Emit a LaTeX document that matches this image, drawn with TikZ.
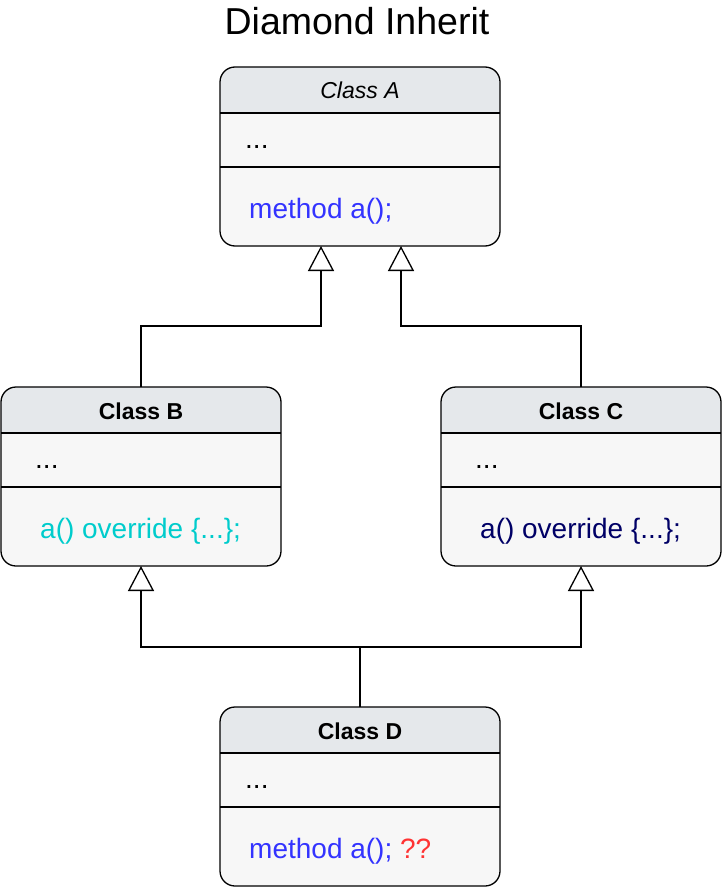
\documentclass[tikz,border=0pt]{standalone}
\usepackage{fontspec}
\setmainfont{Liberation Sans}
\usetikzlibrary{arrows.meta}
\definecolor{hdrfill}{HTML}{E5E8EB}
\definecolor{bodyfill}{HTML}{F7F7F7}
\definecolor{methblue}{HTML}{3333FF}
\definecolor{ovcyan}{HTML}{00CCCC}
\definecolor{ovnavy}{HTML}{000066}
\definecolor{qred}{HTML}{FF3333}
\begin{document}
\begin{tikzpicture}
    [%%%%%%%%%%%%%%%%%%%%%%%%%%%%%%
        x=1pt, y=-1pt,
        classbox/.style={rectangle, rounded corners=15pt, draw=black, line width=1.3pt,
            fill=bodyfill, minimum width=280pt, minimum height=179pt, inner sep=0pt, outer sep=0pt,
            path picture={
                \fill[hdrfill, sharp corners] (path picture bounding box.north west) rectangle ([yshift=-46pt]path picture bounding box.north east);
                \draw[line width=1.3pt, sharp corners] ([yshift=-46pt]path picture bounding box.north west) -- ([yshift=-46pt]path picture bounding box.north east);
                \draw[line width=1.3pt, sharp corners] ([yshift=-100pt]path picture bounding box.north west) -- ([yshift=-100pt]path picture bounding box.north east);
            }},
        hdrtext/.style={anchor=base, inner sep=0pt, font=\fontsize{23}{27}\selectfont},
        bodytext/.style={anchor=base west, inner sep=0pt, font=\fontsize{28}{32}\selectfont},
        inh/.style={line width=1.3pt, -{Triangle[length=25pt, width=26pt, fill=white]}},
    ]%%%%%%%%%%%%%%%%%%%%%%%%%%%%%%
    \useasboundingbox (0,0) rectangle (724,888);
    \node[anchor=base, inner sep=0pt, font=\fontsize{37.5}{42}\selectfont] (title) at (357,35) {Diamond Inherit};

    % class boxes
    \node[classbox] (A) at (360,156.5) {};
    \node[classbox] (B) at (141,476.5) {};
    \node[classbox] (C) at (581,476.5) {};
    \node[classbox] (D) at (360,796.5) {};

    % class A
    \node[hdrtext] (A-name) at ([yshift=-32pt]A.north) {\itshape Class A};
    \node[bodytext] (A-attr) at ([shift={(25pt,-81pt)}]A.north west) {...};
    \node[bodytext, text=methblue] (A-meth) at ([shift={(29pt,-151pt)}]A.north west) {method a();};

    % class B
    \node[hdrtext] (B-name) at ([yshift=-32pt]B.north) {\bfseries Class B};
    \node[bodytext] (B-attr) at ([shift={(34pt,-81pt)}]B.north west) {...};
    \node[bodytext, text=ovcyan] (B-meth) at ([shift={(39pt,-151pt)}]B.north west) {a() override \{...\};};

    % class C
    \node[hdrtext] (C-name) at ([yshift=-32pt]C.north) {\bfseries Class C};
    \node[bodytext] (C-attr) at ([shift={(34pt,-81pt)}]C.north west) {...};
    \node[bodytext, text=ovnavy] (C-meth) at ([shift={(39pt,-151pt)}]C.north west) {a() override \{...\};};

    % class D
    \node[hdrtext] (D-name) at ([yshift=-32pt]D.north) {\bfseries Class D};
    \node[bodytext] (D-attr) at ([shift={(25pt,-81pt)}]D.north west) {...};
    \node[bodytext, text=methblue] (D-meth) at ([shift={(29pt,-151pt)}]D.north west) {method a(); \textcolor{qred}{??}};

    % inheritance
    \draw[inh] (B.north) -- ++(0,-61) -| ([xshift=-39pt]A.south);
    \draw[inh] (C.north) -- ++(0,-61) -| ([xshift=41pt]A.south);
    \draw[line width=1.3pt] (D.north) -- ++(0,-60) coordinate (Djoin);
    \draw[inh] (Djoin) -| (B.south);
    \draw[inh] (Djoin) -| (C.south);
\end{tikzpicture}
\end{document}
